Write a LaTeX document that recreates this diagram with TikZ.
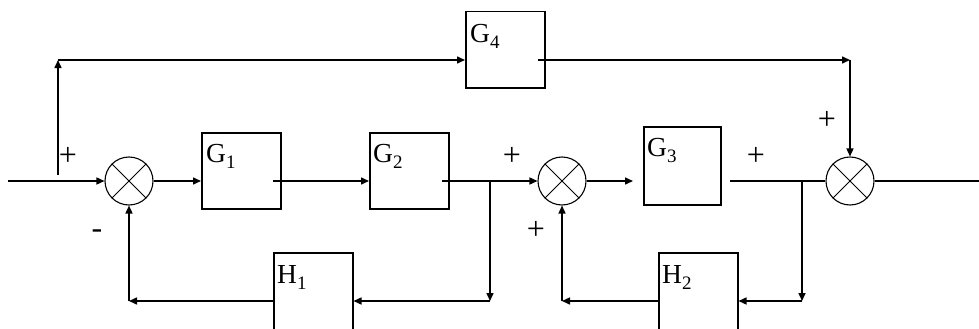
\documentclass[tikz,border=0pt]{standalone}
\usepackage{fontspec}
\setmainfont{Liberation Serif}
\usetikzlibrary{arrows.meta}
\tikzset{
  blk/.style={draw, line width=1.5pt, inner sep=0pt, anchor=north west},
  sumnode/.style={circle, draw, line width=1.1pt, minimum size=48pt, inner sep=0pt},
  crossline/.style={line width=0.9pt},
  wire/.style={line width=1.5pt},
  arr/.style={wire, -{Triangle[length=8pt,width=7pt]}},
  lbl/.style={anchor=base west, inner sep=0pt, font=\fontsize{27.5}{30}\selectfont},
  sgn/.style={inner sep=0pt, font=\fontsize{32}{36}\selectfont}
}
\newcommand{\blab}[2]{#1\raisebox{-6pt}{\fontsize{19}{20}\selectfont #2}}
\begin{document}
\begin{tikzpicture}[x=1pt,y=-1pt]
\useasboundingbox (0,0) rectangle (979,329);
% blocks
\node[blk, minimum width=79pt, minimum height=76pt] (g1) at (201,132) {};
\node[blk, minimum width=79pt, minimum height=76pt] (g2) at (369,132) {};
\node[blk, minimum width=79pt, minimum height=76pt] (g4) at (465,11) {};
\node[blk, minimum width=77pt, minimum height=78pt] (g3) at (643,126) {};
\node[blk, minimum width=79pt, minimum height=80pt] (h1) at (273,252) {};
\node[blk, minimum width=79pt, minimum height=80pt] (h2) at (658,252) {};
% labels
\node[lbl] (tg1) at (206,162) {\blab{G}{1}};
\node[lbl] (tg2) at (373,162) {\blab{G}{2}};
\node[lbl] (tg4) at (470,42) {\blab{G}{4}};
\node[lbl] (tg3) at (647,156) {\blab{G}{3}};
\node[lbl] (th1) at (277,283) {\blab{H}{1}};
\node[lbl] (th2) at (662,283) {\blab{H}{2}};
% summing junctions
\node[sumnode] (s1) at (129,181) {};
\node[sumnode] (s2) at (562,181) {};
\node[sumnode] (s3) at (850,181) {};
\foreach \s in {s1,s2,s3}{
  \draw[crossline] (\s.north west) -- (\s.south east);
  \draw[crossline] (\s.north east) -- (\s.south west);
}
% coordinates
\coordinate (in) at (8,181);
\coordinate (b0) at (58,175);
\coordinate (b0t) at (58,60);
\coordinate (g4o) at (538,60);
\coordinate (c4) at (850,60);
\coordinate (g1o) at (273,181);
\coordinate (g2o) at (442,181);
\coordinate (j1) at (490,181);
\coordinate (c1) at (490,301);
\coordinate (c2) at (129,301);
\coordinate (g3i) at (633,181);
\coordinate (g3o) at (730,181);
\coordinate (j2) at (802,181);
\coordinate (c3) at (802,301);
\coordinate (c5) at (562,301);
\coordinate (out) at (979,181);
% wires
\draw[arr] (in) -- (s1.west);
\draw[arr] (b0) -- (b0t);
\draw[arr] (b0t) -- (g4.west |- b0t);
\draw[arr] (g4o) -- (c4);
\draw[arr] (c4) -- (s3.north);
\draw[arr] (s1.east) -- (g1.west |- s1.east);
\draw[arr] (g1o) -- (g2.west |- g1o);
\draw[arr] (g2o) -- (s2.west);
\draw[arr] (j1) -- (c1);
\draw[arr] (c1) -- (h1.east |- c1);
\draw[arr] (h1.west |- c1) -- (c2);
\draw[arr] (c2) -- (s1.south);
\draw[arr] (s2.east) -- (g3i);
\draw[wire] (g3o) -- (s3.west);
\draw[arr] (j2) -- (c3);
\draw[arr] (c3) -- (h2.east |- c3);
\draw[arr] (h2.west |- c3) -- (c5);
\draw[arr] (c5) -- (s2.south);
\draw[wire] (s3.east) -- (out);
% signs
\node[sgn] (p1) at (68,156) {+};
\node[sgn] (m1) at (97,234) {-};
\node[sgn] (p2) at (512,156) {+};
\node[sgn] (p3) at (536,230) {+};
\node[sgn] (p4) at (756,156) {+};
\node[sgn] (p5) at (827,120) {+};
\end{tikzpicture}
\end{document}
